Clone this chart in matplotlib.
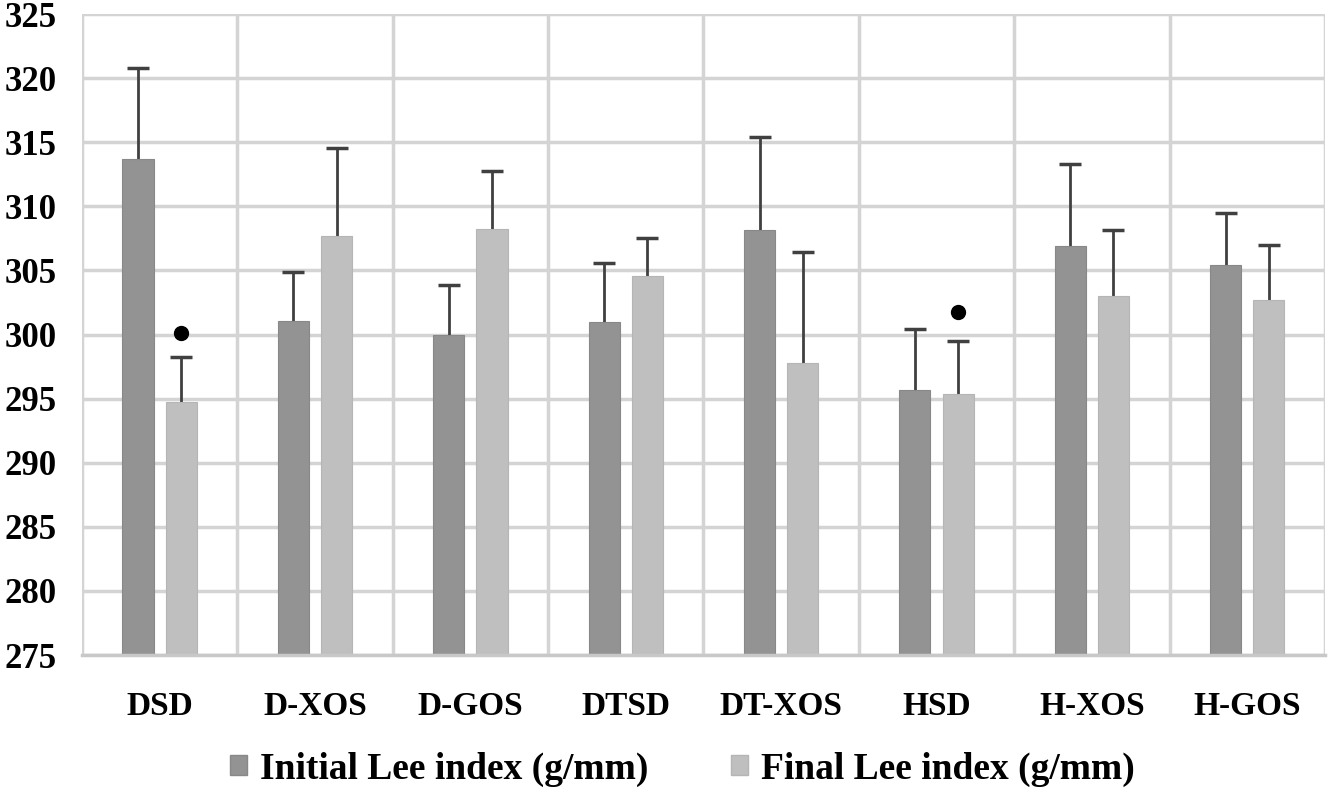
import numpy as np
import matplotlib.pyplot as plt
from matplotlib.patches import Patch

# Lee index data
groups = ["DSD", "D-XOS", "D-GOS", "DTSD", "DT-XOS", "HSD", "H-XOS", "H-GOS"]
initial = [313.7, 301.05, 300.0, 300.95, 308.15, 295.7, 306.9, 305.4]
initial_err = [7.1, 3.85, 3.85, 4.65, 7.25, 4.75, 6.4, 4.1]
final = [294.7, 307.7, 308.25, 304.6, 297.8, 295.35, 302.98, 302.7]
final_err = [3.55, 6.85, 4.5, 2.9, 8.6, 4.15, 5.2, 4.25]
# significance dots above final bars
dot_groups = [0, 5]
dot_values = [300.1, 301.75]

plt.rcParams['font.family'] = ['Liberation Serif', 'DejaVu Serif']
plt.rcParams['font.weight'] = 'bold'

fig = plt.figure(figsize=(13.28, 7.93), dpi=100)
ax = fig.add_axes([0.0617, 0.174, 0.936, 0.8083])

x = np.arange(len(groups))
off = 0.139
w = 0.2
c_init = "#939393"
c_fin = "#bfbfbf"
ekw = dict(ecolor="#404040", elinewidth=2, capsize=8, capthick=2.5)

ax.bar(x - off, initial, w, bottom=0, color=c_init, edgecolor="#888888",
       linewidth=0.8, zorder=2)
ax.bar(x + off, final, w, bottom=0, color=c_fin, edgecolor="#b5b5b5",
       linewidth=0.8, zorder=2)
for xs, vals, errs in [(x - off, initial, initial_err), (x + off, final, final_err)]:
    eb = ax.errorbar(xs, vals, yerr=[np.zeros(len(x)), errs], fmt="none",
                     zorder=1.5, **ekw)
    eb[1][0].set_visible(False)  # hide lower caps
ax.plot(x[dot_groups] + off, dot_values, "o", color="black", markersize=10, zorder=4)

ax.set_ylim(275, 325)
ax.set_xlim(-0.5, len(groups) - 0.5)
ax.set_yticks(np.arange(275, 326, 5))
ax.set_xticks(x)
ax.set_xticklabels(groups)
ax.set_xticks(np.arange(-0.5, len(groups), 1.0), minor=True)

ax.grid(True, axis="y", which="major", color="#d4d4d4", linewidth=2.5, zorder=0)
ax.grid(True, axis="x", which="minor", color="#d4d4d4", linewidth=2.5, zorder=0)
ax.grid(False, axis="x", which="major")
ax.set_axisbelow(True)

for s in ["top", "right", "left"]:
    ax.spines[s].set_visible(False)
ax.spines["bottom"].set_color("#c8c8c8")
ax.spines["bottom"].set_linewidth(2.5)

ax.tick_params(axis="both", which="both", length=0)
ax.tick_params(axis="y", labelsize=25, pad=18)
ax.tick_params(axis="x", labelsize=24, pad=26)
for lab in ax.get_xticklabels() + ax.get_yticklabels():
    lab.set_fontweight("bold")

handles = [Patch(facecolor=c_init, edgecolor="#888888", label="Initial Lee index (g/mm)"),
           Patch(facecolor=c_fin, edgecolor="#b5b5b5", label="Final Lee index (g/mm)")]
fig.legend(handles=handles, loc="center", bbox_to_anchor=(0.514, 0.03), ncol=2,
           frameon=False, prop={"size": 27, "weight": "bold"},
           handlelength=0.45, handleheight=0.45, handletextpad=0.35, columnspacing=2.2)

fig.savefig("out.png", dpi=100)
